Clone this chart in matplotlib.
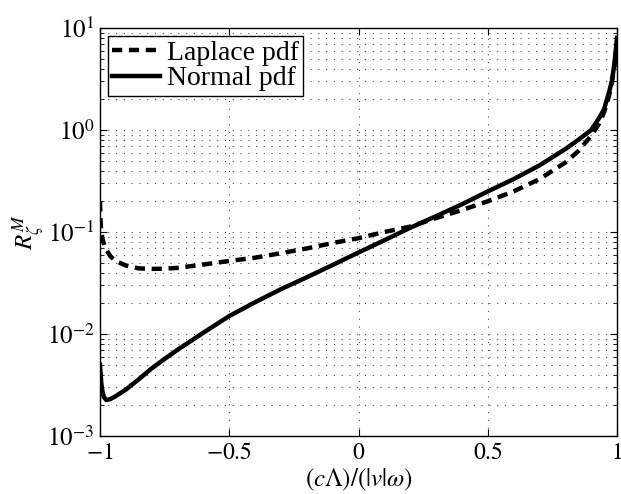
import numpy as np
import matplotlib
matplotlib.use("Agg")
import matplotlib.pyplot as plt
from matplotlib.ticker import LogLocator, NullFormatter, FixedLocator

plt.rcParams['font.family'] = ['Liberation Serif', 'DejaVu Serif']
plt.rcParams['mathtext.fontset'] = 'stix'

x_normal = [-1.0, -0.995, -0.99, -0.985, -0.975, -0.96, -0.94, -0.9, -0.85, -0.8, -0.75, -0.7,
            -0.6, -0.5, -0.4, -0.3, -0.2, -0.1, 0.0, 0.1, 0.2, 0.3, 0.4, 0.5, 0.6, 0.7, 0.8,
            0.85, 0.9, 0.93, 0.95, 0.97, 0.98, 0.99, 0.995, 1.0]
y_normal = [5.0e-3, 3.3e-3, 2.7e-3, 2.4e-3, 2.25e-3, 2.3e-3, 2.45e-3, 2.85e-3, 3.6e-3, 4.6e-3,
            5.7e-3, 7.0e-3, 1.03e-2, 1.5e-2, 2.05e-2, 2.75e-2, 3.6e-2, 4.75e-2, 6.3e-2, 8.3e-2,
            0.11, 0.143, 0.187, 0.25, 0.33, 0.45, 0.65, 0.8, 1.0, 1.3, 1.6, 2.4, 3.0, 4.5, 6.0, 8.0]

x_laplace = [-1.0, -0.998, -0.995, -0.99, -0.98, -0.96, -0.94, -0.9, -0.85, -0.8, -0.75, -0.7,
             -0.6, -0.5, -0.4, -0.3, -0.2, -0.1, 0.0, 0.1, 0.2, 0.3, 0.4, 0.5, 0.6, 0.7, 0.8,
             0.85, 0.9, 0.93, 0.95, 0.97, 0.98, 0.99, 0.995, 1.0]
y_laplace = [0.2, 0.13, 0.1, 0.085, 0.07, 0.058, 0.052, 0.047, 0.044, 0.0435, 0.0437, 0.0445,
             0.048, 0.052, 0.056, 0.062, 0.069, 0.078, 0.087, 0.1, 0.113, 0.137, 0.164, 0.2,
             0.25, 0.33, 0.48, 0.62, 0.88, 1.15, 1.5, 2.2, 2.9, 4.2, 5.5, 7.0]

x_ticks = [-1, -0.5, 0, 0.5, 1]
x_tick_labels = ['$-1$', '$-0.5$', '$0$', '$0.5$', '$1$']
y_ticks = [1e-3, 1e-2, 1e-1, 1e0, 1e1]
y_tick_labels = ['$10^{-3}$', '$10^{-2}$', '$10^{-1}$', '$10^{0}$', '$10^{1}$']

fig = plt.figure(figsize=(6.21, 4.94), dpi=100)
ax = fig.add_axes([0.161, 0.1174, 0.8326, 0.8259])

ax.plot(x_laplace, y_laplace, color='black', lw=3.2, linestyle=(0, (2.3, 1.5)),
        label='Laplace pdf')
ax.plot(x_normal, y_normal, color='black', lw=3.2, label='Normal pdf')

ax.set_yscale('log')
ax.set_xlim(-1, 1)
ax.set_ylim(1e-3, 1e1)
ax.set_xticks(x_ticks)
ax.set_xticklabels(x_tick_labels)
ax.yaxis.set_major_locator(FixedLocator(y_ticks))
ax.set_yticklabels(y_tick_labels)
ax.yaxis.set_minor_locator(LogLocator(base=10, subs=np.arange(2, 10)))
ax.yaxis.set_minor_formatter(NullFormatter())

grid_style = dict(color='0.3', linestyle=(0, (1, 6)), linewidth=0.8)
ax.grid(True, which='major', axis='both', **grid_style)
ax.grid(True, which='minor', axis='y', **grid_style)

ax.tick_params(axis='both', which='both', direction='in', top=True, right=True,
               labelsize=18)
ax.tick_params(axis='x', which='major', pad=5, labelsize=17)
ax.tick_params(axis='y', which='major', pad=4)
ax.tick_params(which='major', length=5)
ax.tick_params(which='minor', length=3)
for s in ax.spines.values():
    s.set_linewidth(1.0)

ax.set_xlabel(r'$(c\Lambda)/(|v|\omega)$', fontsize=18, labelpad=2)
ax.set_ylabel(r'$R_\zeta^M$', fontsize=18, labelpad=0)

leg = ax.legend(loc='upper left', fontsize=20, frameon=True, fancybox=False,
                edgecolor='black', framealpha=1, handlelength=1.7,
                borderpad=0.15, labelspacing=0.0, handletextpad=0.25,
                borderaxespad=0.3)
leg.get_frame().set_linewidth(1.0)

fig.savefig('out.png', dpi=100)
